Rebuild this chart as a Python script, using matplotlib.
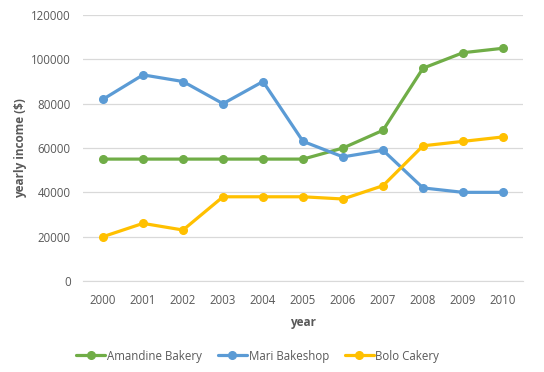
import matplotlib
matplotlib.use("Agg")
import matplotlib.pyplot as plt

# ------------------------------------
# DATA
# ------------------------------------
years = ["2000", "2001", "2002", "2003", "2004", "2005",
         "2006", "2007", "2008", "2009", "2010"]

amandine = [55000, 55000, 55000, 55000, 55000, 55000,
            60000, 68000, 96000, 103000, 105000]
mari = [82000, 93000, 90000, 80000, 90000, 63000,
        56000, 59000, 42000, 40000, 40000]
bolo = [20000, 26000, 23000, 38000, 38000, 38000,
        37000, 43000, 61000, 63000, 65000]

series_names = ["Amandine Bakery", "Mari Bakeshop", "Bolo Cakery"]
series_colors = ["#70AD47", "#5B9BD5", "#FFC000"]

y_ticks = [0, 20000, 40000, 60000, 80000, 100000, 120000]

# ------------------------------------
# PLOT
# ------------------------------------
plt.rcParams["font.family"] = ["Open Sans", "DejaVu Sans"]
text_color = "#595959"

fig = plt.figure(figsize=(5.44, 3.72), dpi=100)
ax = fig.add_axes([0.1526, 0.2446, 0.8088, 0.715])

x = list(range(len(years)))
for values, name, color in zip([amandine, mari, bolo], series_names, series_colors):
    ax.plot(x, values, color=color, linewidth=2.3, marker="o",
            markersize=5.5, label=name, solid_capstyle="round")

ax.set_xlim(-0.5, len(years) - 0.5)
ax.set_ylim(0, 120000)
ax.set_xticks(x)
ax.set_xticklabels(years)
ax.set_yticks(y_ticks)
ax.set_yticklabels([str(v) for v in y_ticks])

ax.grid(axis="y", color="#D9D9D9", linewidth=0.9)
ax.set_axisbelow(True)
for side in ["top", "right", "left"]:
    ax.spines[side].set_visible(False)
ax.spines["bottom"].set_color("#D9D9D9")
ax.tick_params(axis="both", length=0, labelsize=8.3, colors=text_color, pad=9)

ax.set_xlabel("year", fontsize=8.5, fontweight="bold", color=text_color, labelpad=7)
ax.set_ylabel("yearly income ($)", fontsize=8.5, fontweight="bold",
              color=text_color, labelpad=3)

fig.legend(loc="center", bbox_to_anchor=(0.474, 0.043), ncol=3, frameon=False,
           fontsize=8.3, labelcolor=text_color, handlelength=2.5,
           handletextpad=0.15, columnspacing=1.4)

fig.savefig("out.png", dpi=100)
